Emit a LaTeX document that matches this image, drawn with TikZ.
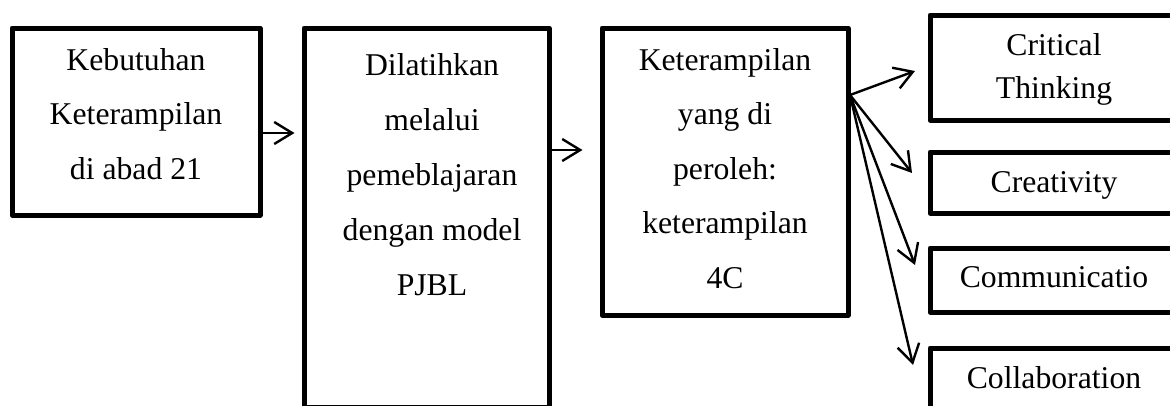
\documentclass[tikz,border=0pt]{standalone}
\usepackage{fontspec}
\setmainfont{Liberation Serif}
\usetikzlibrary{arrows.meta}
\begin{document}
\begin{tikzpicture}[x=1pt,y=-1pt,
  frame/.style={draw=black, line width=5pt, line join=round, inner sep=0pt},
  txt/.style={align=center, inner sep=0pt, anchor=north,
    font=\fontsize{31.7}{54.5}\selectfont},
  arr/.style={line width=2.4pt, -{Straight Barb[length=18pt,width=22pt]}}]
\useasboundingbox (0,0) rectangle (1170,405);
\clip (0,0) rectangle (1170,405);

% main flow boxes
\node[frame, minimum width=248pt, minimum height=187pt] (b1) at (136,121.5) {};
\node[frame, minimum width=245pt, minimum height=379pt] (b2) at (426.5,217.5) {};
\node[frame, minimum width=246pt, minimum height=287pt] (b3) at (725,171.5) {};

% the four skills
\node[frame, minimum width=248pt, minimum height=105pt] (c1) at (1054,67.5) {};
\node[frame, minimum width=248pt, minimum height=61pt] (c2) at (1054,182.5) {};
\node[frame, minimum width=248pt, minimum height=64pt] (c3) at (1054,280) {};
\node[frame, minimum width=248pt, minimum height=72pt] (c4) at (1054,384) {};

% labels (each placed 30pt above its first baseline)
\node[txt] (l1) at (136,40) {\rule{0pt}{30pt}Kebutuhan\\Keterampilan\\di abad 21};
\node[txt, font=\fontsize{31.7}{55}\selectfont] (l2) at (432,45)
  {\rule{0pt}{30pt}Dilatihkan\\melalui\\pemeblajaran\\dengan model\\PJBL};
\node[txt] (l3) at (725,40)
  {\rule{0pt}{30pt}Keterampilan\\yang di\\peroleh:\\keterampilan\\4C};
\node[txt, font=\fontsize{31.7}{43}\selectfont] (k1) at (1054,25)
  {\rule{0pt}{30pt}Critical\\Thinking};
\node[txt] (k2) at (1054,162) {\rule{0pt}{30pt}Creativity};
\node[txt] (k3) at (1054,257) {\rule{0pt}{30pt}Communicatio};
\node[txt] (k4) at (1054,358) {\rule{0pt}{30pt}Collaboration};

% connectors
\coordinate (r1) at (0,133);
\coordinate (r2) at (0,150);
\draw[arr, shorten >=7pt] (b1.east |- r1) -- (b2.west |- r1);
\draw[arr, shorten >=17pt] (b2.east |- r2) -- (b3.west |- r2);

\coordinate (src) at (850,95);
\coordinate (t1) at (915,71);
\coordinate (t2) at (912,173);
\coordinate (t3) at (915,265);
\coordinate (t4) at (913,365);
\draw[arr] (src) -- (t1);
\draw[arr] (src) -- (t2);
\draw[arr] (src) -- (t3);
\draw[arr] (src) -- (t4);
\end{tikzpicture}
\end{document}
